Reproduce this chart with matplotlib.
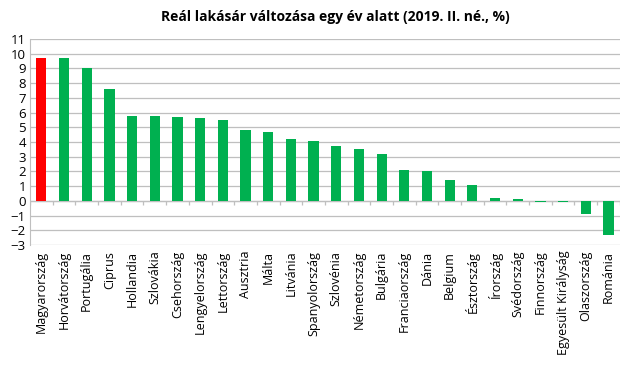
import matplotlib.pyplot as plt
import numpy as np

countries = ['Magyarország', 'Horvátország', 'Portugália', 'Ciprus', 'Hollandia',
             'Szlovákia', 'Csehország', 'Lengyelország', 'Lettország', 'Ausztria',
             'Málta', 'Litvánia', 'Spanyolország', 'Szlovénia', 'Németország',
             'Bulgária', 'Franciaország', 'Dánia', 'Belgium', 'Észtország',
             'Írország', 'Svédország', 'Finnország', 'Egyesült Királyság',
             'Olaszország', 'Románia']
values = [9.7, 9.7, 9.0, 7.6, 5.8, 5.8, 5.7, 5.6, 5.5, 4.8, 4.7, 4.2, 4.1,
          3.7, 3.5, 3.2, 2.1, 2.0, 1.4, 1.1, 0.2, 0.1, -0.1, -0.1, -0.9, -2.3]
yticks = list(range(-3, 12))

plt.rcParams['font.family'] = ['Open Sans', 'DejaVu Sans']

fig = plt.figure(figsize=(6.39, 3.67), dpi=100)
ax = fig.add_axes([0.047, 0.332, 0.923, 0.562])

x = np.arange(len(countries))
colors = ['#FF0000'] + ['#00B050'] * (len(countries) - 1)
ax.bar(x, values, width=0.45, color=colors, zorder=3)

# y axis and grid
ax.set_ylim(-3, 11)
ax.set_yticks(yticks)
ax.tick_params(axis='y', length=0, labelsize=9.5, pad=3)
ax.grid(axis='y', color='#BFBFBF', linewidth=0.9, zorder=0)

# category axis crosses at zero, tick marks between categories
ax.set_xlim(-0.5, len(countries) - 0.5)
ax.axhline(0, color='#BFBFBF', linewidth=0.9, zorder=2)
ax.vlines(np.arange(len(countries) + 1) - 0.5, -0.3, 0, color='#BFBFBF',
          linewidth=0.9, zorder=2)
ax.set_xticks(x)
ax.set_xticklabels(countries, rotation=90, fontsize=9)
ax.tick_params(axis='x', length=0, pad=4)

for s in ['top', 'right', 'bottom']:
    ax.spines[s].set_visible(False)
ax.spines['left'].set_color('#BFBFBF')

fig.text(0.525, 0.955, 'Reál lakásár változása egy év alatt (2019. II. né., %)',
         ha='center', va='center', fontsize=10, fontweight='bold')

plt.savefig('out.png', dpi=100)
